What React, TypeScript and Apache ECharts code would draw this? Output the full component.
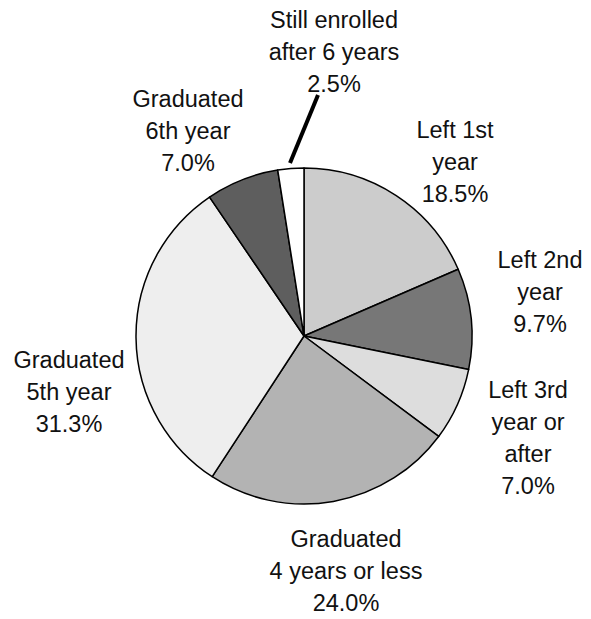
import React, { useEffect, useRef } from "react";
import * as echarts from "echarts";

const categories = [
  "Left 1st\nyear",
  "Left 2nd\nyear",
  "Left 3rd\nyear or\nafter",
  "Graduated\n4 years or less",
  "Graduated\n5th year",
  "Graduated\n6th year",
  "Still enrolled\nafter 6 years",
];
const values = [18.5, 9.7, 7.0, 24.0, 31.3, 7.0, 2.5];
const colors = ["#cccccc", "#777777", "#dddddd", "#b3b3b3", "#eeeeee", "#5e5e5e", "#ffffff"];

// label block centres (layout only)
const labelPos = [
  [455, 162],
  [540, 292],
  [528, 438],
  [346, 571],
  [69, 392],
  [188, 131],
  [334, 52],
];

export default function App() {
  const ref = useRef<HTMLDivElement>(null);
  useEffect(() => {
    if (!ref.current) return;
    const chart = echarts.init(ref.current, undefined, { renderer: "svg" });
    chart.setOption({
      animation: false,
      backgroundColor: "#ffffff",
      series: [
        {
          type: "pie",
          center: [304, 336],
          radius: 168,
          startAngle: 90,
          clockwise: true,
          avoidLabelOverlap: false,
          itemStyle: { borderColor: "#000", borderWidth: 1.5 },
          label: {
            show: true,
            position: "outside",
            formatter: (p: any) => `${p.name}\n${Number(p.value).toFixed(1)}%`,
            fontFamily: "Liberation Sans, Arial, sans-serif",
            fontSize: 23.5,
            lineHeight: 32,
            color: "#111",
            align: "center",
          },
          labelLine: { show: false },
          labelLayout: (params: any) => {
            const pos = labelPos[params.dataIndex];
            return { x: pos[0], y: pos[1], align: "center", verticalAlign: "middle" };
          },
          data: categories.map((c, i) => ({
            name: c,
            value: values[i],
            itemStyle: { color: colors[i] },
          })),
        },
      ],
      graphic: [
        {
          type: "line",
          shape: { x1: 290, y1: 163, x2: 318, y2: 95 },
          style: { stroke: "#000", lineWidth: 4 },
        },
      ],
    });
    return () => chart.dispose();
  }, []);
  return (
    <div
      ref={ref}
      style={{ position: "fixed", left: 0, top: 0, width: 591, height: 619 }}
    />
  );
}
